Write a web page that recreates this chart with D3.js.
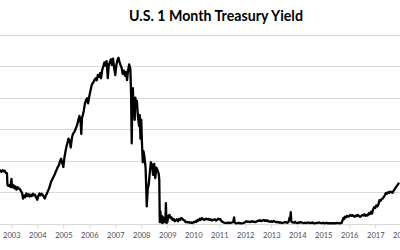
<!DOCTYPE html>
<html>
<head>
<meta charset="utf-8">
<script src="https://cdn.jsdelivr.net/npm/d3@7"></script>
<style>
  html, body { margin: 0; padding: 0; background: #fff; }
  svg { display: block; }
</style>
</head>
<body>
<svg id="chart" width="400" height="250"></svg>
<script>
var title = "U.S. 1 Month Treasury Yield";

// year tick labels along the bottom
var years = [2003, 2004, 2005, 2006, 2007, 2008, 2009, 2010, 2011, 2012, 2013, 2014, 2015, 2016, 2017, 2018];

// gridline values (percent)
var gridValues = [0, 1, 2, 3, 4, 5, 6];

var obsDates = [
  "2002-07-20","2002-08-01","2002-08-15","2002-09-01","2002-09-15","2002-10-01","2002-10-15","2002-11-01","2002-11-08","2002-11-20","2002-12-05","2002-12-20",
  "2003-01-03","2003-01-12","2003-02-01","2003-02-15","2003-03-01","2003-03-15","2003-04-01","2003-04-15","2003-05-01","2003-05-15","2003-06-01","2003-06-15",
  "2003-07-01","2003-07-15","2003-08-01","2003-08-15","2003-09-01","2003-09-15","2003-10-01","2003-10-15","2003-11-01","2003-11-15","2003-12-01","2003-12-15",
  "2004-01-01","2004-01-15","2004-02-01","2004-02-15","2004-03-01","2004-03-15","2004-04-01","2004-04-15","2004-05-01","2004-05-15","2004-06-01","2004-06-15",
  "2004-07-01","2004-07-15","2004-08-01","2004-08-15","2004-09-01","2004-09-15","2004-10-01","2004-10-15","2004-11-01","2004-11-15","2004-12-01","2004-12-15",
  "2005-01-01","2005-01-15","2005-02-01","2005-02-15","2005-03-01","2005-03-15","2005-04-01","2005-04-15","2005-05-01","2005-05-15","2005-06-01","2005-06-15",
  "2005-07-01","2005-07-15","2005-08-01","2005-08-15","2005-09-01","2005-09-10","2005-09-20","2005-10-01","2005-10-15","2005-11-01","2005-11-15","2005-12-01","2005-12-15",
  "2006-01-01","2006-01-15","2006-02-01","2006-02-15","2006-03-01","2006-03-15","2006-04-01","2006-04-15","2006-05-01","2006-05-15","2006-06-01","2006-06-15",
  "2006-07-01","2006-07-15","2006-08-01","2006-08-15","2006-09-01","2006-09-18","2006-10-01","2006-10-15","2006-11-01","2006-11-15","2006-12-01","2006-12-15",
  "2007-01-01","2007-01-15","2007-02-01","2007-02-15","2007-03-01","2007-03-15","2007-04-01","2007-04-15","2007-05-01","2007-05-15","2007-06-01","2007-06-15",
  "2007-07-01","2007-07-15","2007-08-01","2007-08-10","2007-08-20","2007-08-28","2007-09-05","2007-09-15","2007-10-01","2007-10-10","2007-10-20","2007-11-01","2007-11-15","2007-12-01","2007-12-10","2007-12-20",
  "2008-01-01","2008-01-10","2008-01-22","2008-02-01","2008-02-15","2008-03-01","2008-03-10","2008-03-18","2008-04-01","2008-04-15","2008-05-01","2008-05-15","2008-06-01","2008-06-15",
  "2008-07-01","2008-07-15","2008-08-01","2008-08-15","2008-09-01","2008-09-10","2008-09-17","2008-09-25","2008-10-05","2008-10-15","2008-10-25","2008-11-05","2008-11-20","2008-12-05","2008-12-12","2008-12-20",
  "2009-01-01","2009-01-15","2009-02-01","2009-02-15","2009-03-01","2009-03-15","2009-04-01","2009-04-15","2009-05-01","2009-05-15","2009-06-01","2009-06-15",
  "2009-07-01","2009-07-15","2009-08-01","2009-08-15","2009-09-01","2009-09-15","2009-10-01","2009-10-15","2009-11-01","2009-11-15","2009-12-01","2009-12-15",
  "2010-01-01","2010-01-15","2010-02-01","2010-02-15","2010-03-01","2010-03-15","2010-04-01","2010-04-15","2010-05-01","2010-05-15","2010-06-01","2010-06-15",
  "2010-07-01","2010-07-15","2010-08-01","2010-08-15","2010-09-01","2010-09-15","2010-10-01","2010-10-15","2010-11-01","2010-11-15","2010-12-01","2010-12-15",
  "2011-01-01","2011-01-15","2011-02-01","2011-02-15","2011-03-01","2011-03-15","2011-04-01","2011-04-15","2011-05-01","2011-05-15","2011-06-01","2011-06-15",
  "2011-07-01","2011-07-15","2011-07-28","2011-08-05","2011-08-15","2011-09-01","2011-09-15","2011-10-01","2011-10-15","2011-11-01","2011-11-15","2011-12-01","2011-12-15",
  "2012-01-01","2012-01-15","2012-02-01","2012-02-15","2012-03-01","2012-03-15","2012-04-01","2012-04-15","2012-05-01","2012-05-15","2012-06-01","2012-06-15",
  "2012-07-01","2012-07-15","2012-08-01","2012-08-15","2012-09-01","2012-09-15","2012-10-01","2012-10-15","2012-11-01","2012-11-15","2012-12-01","2012-12-15",
  "2013-01-01","2013-01-15","2013-02-01","2013-02-15","2013-03-01","2013-03-15","2013-04-01","2013-04-15","2013-05-01","2013-05-15","2013-06-01","2013-06-15",
  "2013-07-01","2013-07-15","2013-08-01","2013-08-15","2013-09-01","2013-09-15","2013-09-25","2013-10-01","2013-10-08","2013-10-15","2013-11-01","2013-11-15","2013-12-01","2013-12-15",
  "2014-01-01","2014-01-15","2014-02-01","2014-02-15","2014-03-01","2014-03-15","2014-04-01","2014-04-15","2014-05-01","2014-05-15","2014-06-01","2014-06-15",
  "2014-07-01","2014-07-15","2014-08-01","2014-08-15","2014-09-01","2014-09-15","2014-10-01","2014-10-15","2014-11-01","2014-11-15","2014-12-01","2014-12-15",
  "2015-01-01","2015-01-15","2015-02-01","2015-02-15","2015-03-01","2015-03-15","2015-04-01","2015-04-15","2015-05-01","2015-05-15","2015-06-01","2015-06-15",
  "2015-07-01","2015-07-15","2015-08-01","2015-08-15","2015-09-01","2015-09-15","2015-10-01","2015-10-10","2015-10-20","2015-11-01","2015-11-15","2015-12-01","2015-12-15",
  "2016-01-01","2016-01-15","2016-02-01","2016-02-15","2016-03-01","2016-03-15","2016-04-01","2016-04-15","2016-05-01","2016-05-15","2016-06-01","2016-06-15",
  "2016-07-01","2016-07-15","2016-08-01","2016-08-15","2016-09-01","2016-09-15","2016-10-01","2016-10-15","2016-11-01","2016-11-15","2016-12-01","2016-12-15",
  "2017-01-01","2017-01-15","2017-02-01","2017-02-15","2017-03-01","2017-03-15","2017-04-01","2017-04-15","2017-05-01","2017-05-15","2017-06-01","2017-06-15",
  "2017-07-01","2017-07-15","2017-08-01","2017-08-15","2017-09-01","2017-09-15","2017-10-01","2017-10-15","2017-11-01","2017-11-15","2017-12-01","2017-12-15"
];

var yieldPct = [
  1.70,1.69,1.65,1.70,1.66,1.68,1.62,1.60,1.24,1.20,1.22,1.17,
  1.42,1.15,1.22,1.12,1.18,1.08,1.16,1.12,1.10,1.04,0.98,0.80,
  0.90,0.84,0.96,0.88,0.94,0.86,0.92,0.88,0.95,0.90,0.92,0.84,
  0.76,0.88,0.96,0.90,0.95,0.92,0.86,0.80,0.90,0.96,1.05,1.12,
  1.24,1.34,1.42,1.48,1.56,1.64,1.72,1.80,1.86,1.98,2.06,1.94,
  1.80,2.08,2.30,2.46,2.58,2.70,2.62,2.42,2.72,2.84,2.90,2.96,
  3.06,3.14,3.30,3.42,3.22,2.85,3.36,3.44,3.58,3.82,3.92,3.98,3.82,
  4.05,4.20,4.38,4.45,4.50,4.56,4.62,4.55,4.72,4.66,4.78,4.62,
  4.88,4.98,5.12,5.02,5.16,4.62,5.02,5.12,5.22,5.04,5.24,4.96,
  4.72,5.02,5.20,5.27,5.14,5.04,4.94,4.76,4.86,4.70,4.82,4.56,
  4.88,5.06,4.90,4.20,2.55,3.85,4.30,3.60,3.30,4.00,3.70,3.90,3.40,3.10,3.45,2.70,
  3.30,2.60,1.95,2.30,2.10,1.80,1.20,0.55,1.10,1.25,1.65,1.95,1.85,1.55,
  1.90,1.45,1.78,1.70,1.60,1.40,0.05,0.40,0.05,0.25,0.02,0.20,0.05,0.08,0.65,0.02,
  0.05,0.25,0.28,0.18,0.20,0.12,0.15,0.08,0.10,0.14,0.08,0.15,
  0.12,0.18,0.15,0.12,0.10,0.05,0.06,0.04,0.05,0.03,0.04,0.02,
  0.05,0.04,0.08,0.06,0.12,0.10,0.16,0.12,0.18,0.15,0.12,0.14,
  0.16,0.14,0.15,0.12,0.14,0.10,0.12,0.13,0.14,0.10,0.12,0.16,
  0.14,0.15,0.08,0.06,0.04,0.03,0.02,0.03,0.02,0.04,0.02,0.03,
  0.04,0.05,0.20,0.05,0.02,0.01,0.02,0.03,0.01,0.02,0.01,0.02,
  0.03,0.05,0.08,0.06,0.07,0.05,0.06,0.08,0.06,0.07,0.05,0.06,
  0.08,0.10,0.09,0.11,0.08,0.10,0.12,0.09,0.11,0.08,0.10,0.07,
  0.06,0.08,0.06,0.09,0.07,0.05,0.06,0.04,0.05,0.03,0.04,0.02,
  0.03,0.04,0.05,0.04,0.03,0.06,0.20,0.15,0.37,0.10,0.05,0.04,0.03,0.06,
  0.03,0.02,0.04,0.03,0.05,0.04,0.03,0.02,0.03,0.02,0.03,0.04,
  0.02,0.03,0.02,0.04,0.02,0.01,0.02,0.03,0.02,0.04,0.03,0.02,
  0.02,0.03,0.01,0.02,0.03,0.01,0.02,0.01,0.02,0.01,0.02,0.01,
  0.02,0.01,0.03,0.02,0.01,0.02,0.02,0.12,0.18,0.15,0.22,0.20,0.25,
  0.22,0.24,0.28,0.25,0.27,0.24,0.22,0.26,0.24,0.28,0.25,0.22,
  0.24,0.27,0.26,0.30,0.25,0.28,0.26,0.33,0.30,0.38,0.32,0.45,
  0.52,0.50,0.58,0.55,0.62,0.75,0.72,0.78,0.80,0.85,0.90,0.98,
  0.95,1.00,0.98,1.02,1.00,0.98,1.05,1.10,1.15,1.20,1.25,1.30
];

var parseDate = d3.timeParse("%Y-%m-%d");
var data = obsDates.map(function(d, i) {
  return { date: parseDate(d), value: yieldPct[i] };
});

var svg = d3.select("#chart");

var x = d3.scaleTime()
  .domain([new Date(2003, 0, 1), new Date(2017, 0, 1)])
  .range([11.3, 375.3]);

var y = d3.scaleLinear()
  .domain([0, 6])
  .range([223.7, 34.7]);

// horizontal gridlines, full width like the cropped original
svg.append("g")
  .selectAll("line")
  .data(gridValues)
  .enter()
  .append("line")
  .attr("x1", 0)
  .attr("x2", 400)
  .attr("y1", function(d) { return Math.round(y(d)) + 0.5; })
  .attr("y2", function(d) { return Math.round(y(d)) + 0.5; })
  .attr("stroke", "#d9d9d9")
  .attr("stroke-width", 1);

// year axis
var xAxis = d3.axisBottom(x)
  .tickValues(years.map(function(yr) { return new Date(yr, 0, 1); }))
  .tickFormat(d3.timeFormat("%Y"))
  .tickSize(4)
  .tickPadding(4);

var axisG = svg.append("g")
  .attr("transform", "translate(0," + (Math.round(y(0)) + 0.5) + ")")
  .call(xAxis);

axisG.select(".domain").remove();
axisG.selectAll(".tick line").attr("stroke", "#d9d9d9");
axisG.selectAll(".tick text")
  .attr("fill", "#4d4d4d")
  .style("font-family", "Lato, 'Open Sans', sans-serif")
  .style("font-size", "7.5px");

// the yield line
var line = d3.line()
  .x(function(d) { return x(d.date); })
  .y(function(d) { return y(d.value); });

svg.append("path")
  .datum(data)
  .attr("fill", "none")
  .attr("stroke", "#000")
  .attr("stroke-width", 2.3)
  .attr("stroke-linejoin", "round")
  .attr("d", line);

var titleText = svg.append("text")
  .attr("x", 216)
  .attr("y", 21)
  .attr("text-anchor", "middle")
  .style("font-family", "Lato, 'Open Sans', sans-serif")
  .style("font-weight", "bold")
  .style("font-size", "12px")
  .attr("fill", "#000")
  .text(title);

// size the title so it spans about as wide as in the original
var tw = titleText.node().getComputedTextLength();
if (tw > 0) {
  titleText.style("font-size", (12 * 174 / tw).toFixed(2) + "px");
}
</script>
</body>
</html>
